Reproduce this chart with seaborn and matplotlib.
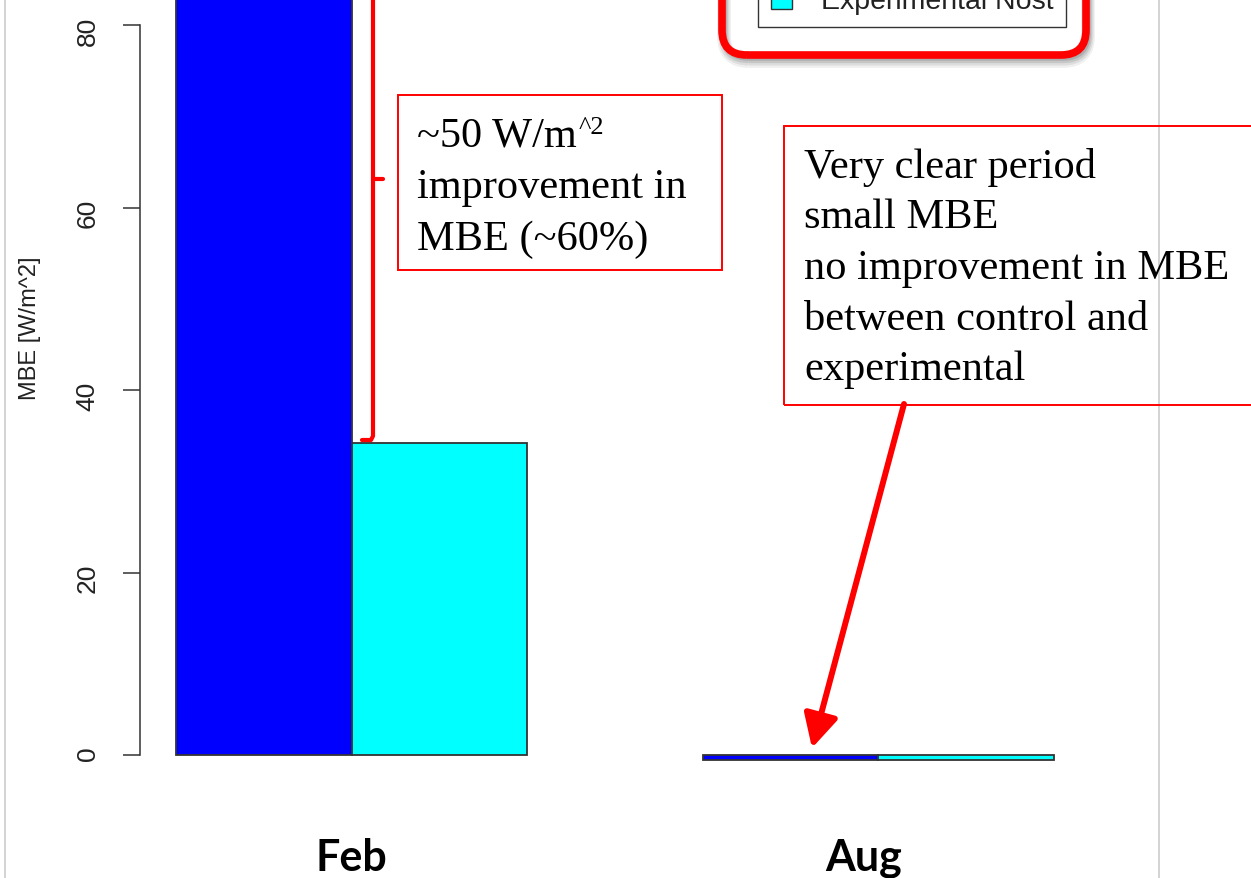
import matplotlib
matplotlib.use('Agg')
import matplotlib.pyplot as plt
import matplotlib.transforms as mtransforms
import seaborn as sns
import pandas as pd
from matplotlib.patches import Rectangle, FancyBboxPatch, FancyArrowPatch, Patch
from matplotlib.lines import Line2D

# data
months = ['Feb', 'Aug']
runs = ['Control', 'Experimental Nost']
control_mbe = [84.0, -0.55]
experimental_mbe = [34.2, -0.55]
bar_colors = ['#0000FF', '#00FFFF']
y_ticks = [0, 20, 40, 60, 80]

W, H = 1251, 879
AX_BOTTOM = 830  # pixel row of the bottom of the axes


def P(x, y):
    # pixel position (from top-left) -> inches for fig.dpi_scale_trans
    return (x / 100, (H - y) / 100)


df = pd.DataFrame({
    'month': months * 2,
    'run': [runs[0]] * len(months) + [runs[1]] * len(months),
    'MBE': control_mbe + experimental_mbe,
})

sns.set_theme(style='white')
plt.rcParams['font.family'] = ['Liberation Sans', 'DejaVu Sans']

fig = plt.figure(figsize=(W / 100, H / 100), dpi=100)
ax = fig.add_axes([0, 1 - AX_BOTTOM / H, 1, AX_BOTTOM / H])
ax.patch.set_alpha(0)

sns.barplot(data=df, x='month', y='MBE', hue='run', palette=bar_colors,
            saturation=1, width=2 / 3, edgecolor='#333333', linewidth=1.3,
            errorbar=None, legend=False, ax=ax)

# scale so bars land where they sit in the slide
unit_x = 526.8
ax.set_xlim(-1 / 3 - 176 / unit_x, -1 / 3 + (W - 176) / unit_x)
unit_y = 9.125
ax.set_ylim(-(AX_BOTTOM - 756) / unit_y, 756 / unit_y)

for side in ['top', 'right', 'bottom']:
    ax.spines[side].set_visible(False)
ax.spines['left'].set_position(('axes', 140 / W))
ax.spines['left'].set_bounds(0, 80)
ax.spines['left'].set_color('#333333')
ax.spines['left'].set_linewidth(1.1)

ax.set_yticks(y_ticks)
ax.tick_params(axis='y', direction='out', length=12, width=1.1, color='#333333',
               pad=17, labelsize=19, labelrotation=90, labelcolor='#222222', left=True)
ax.set_ylabel('MBE [W/m^2]', fontsize=17, color='#222222')
ax.yaxis.set_label_coords(41 / W, (AX_BOTTOM - 328) / AX_BOTTOM)

ax.set_xlabel('')
ax.tick_params(axis='x', length=0, pad=6, labelsize=31, labelcolor='black')
for lbl in ax.get_xticklabels():
    lbl.set_fontfamily('Lato')
    lbl.set_fontweight('bold')
# the Aug label sits a little left of its group in the slide
aug_lbl = ax.get_xticklabels()[1]
aug_lbl.set_transform(aug_lbl.get_transform() +
                      mtransforms.ScaledTranslation(-0.15, 0, fig.dpi_scale_trans))

# legend (top is cut off in the slide)
handles = [Patch(facecolor=c, edgecolor='#333333', linewidth=1) for c in bar_colors]
leg = ax.legend(handles, runs, loc='lower left',
                bbox_to_anchor=(758 / W, (AX_BOTTOM - 28) / AX_BOTTOM),
                borderaxespad=0, fontsize=20.5, frameon=True, fancybox=False,
                edgecolor='#333333', handlelength=0.75, handleheight=0.75,
                handletextpad=1.0, borderpad=0.45, labelspacing=0.6)
leg.get_frame().set_linewidth(1.0)
leg.get_frame().set_alpha(1)
for t in leg.get_texts():
    t.set_color('#222222')

tr = fig.dpi_scale_trans

# slide frame lines
for gx in [5, 1159]:
    fig.add_artist(Line2D([gx / 100, gx / 100], [0, H / 100], transform=tr,
                          color='#cccccc', lw=1.2, zorder=0))

# red rounded box around the legend, with a soft shadow
bx0, bx1, by0 = 722, 1086, 56
for i, a in enumerate([0.06, 0.08, 0.10, 0.12]):
    off = 6 - i
    sh = FancyBboxPatch(P(bx0 + 2, by0 + off), (bx1 - bx0) / 100, 1.2,
                        boxstyle='round,pad=0,rounding_size=0.25', transform=tr,
                        fc='none', ec='black', lw=10 - 2 * i, alpha=a, zorder=4)
    fig.add_artist(sh)
fig.add_artist(FancyBboxPatch(P(bx0, by0), (bx1 - bx0) / 100, 1.2,
                              boxstyle='round,pad=0,rounding_size=0.25', transform=tr,
                              fc='none', ec='#FF0000', lw=5.5, zorder=5))

# bracket showing the Feb improvement
br = [P(373, -5), P(373, 437), P(371, 441), P(362, 441)]
fig.add_artist(Line2D([p[0] for p in br], [p[1] for p in br], transform=tr,
                      color='#FF0000', lw=3, solid_capstyle='round',
                      solid_joinstyle='round', zorder=5))
tk = [P(373, 180), P(383, 180)]
fig.add_artist(Line2D([p[0] for p in tk], [p[1] for p in tk], transform=tr,
                      color='#FF0000', lw=3, solid_capstyle='round', zorder=5))

serif = 'Liberation Serif'
fs = 30.5

# first callout
fig.add_artist(Rectangle(P(398, 271), 3.24, 1.75, transform=tr,
                         fc='none', ec='#FF0000', lw=1.4, zorder=5))
t1 = fig.text(*P(417, 147), '~50 W/m', transform=tr, family=serif, size=fs,
              va='baseline', ha='left', color='black')
ax.annotate('^2', xy=(1, 1), xycoords=t1, xytext=(1, 0), textcoords='offset points',
            va='top', ha='left', family=serif, size=19, color='black',
            annotation_clip=False)
for y, line in zip([198, 250], ['improvement in', 'MBE (~60%)']):
    fig.text(*P(417, y), line, transform=tr, family=serif, size=fs,
             va='baseline', ha='left', color='black')

# second callout
fig.add_artist(Rectangle(P(784, 406), 6.0, 2.79, transform=tr,
                         fc='none', ec='#FF0000', lw=1.4, zorder=5))
lines2 = ['Very clear period', 'small MBE', 'no improvement in MBE',
          'between control and', 'experimental']
for y, line in zip([178, 228, 279, 330, 380], lines2):
    fig.text(*P(804, y), line, transform=tr, family=serif, size=fs,
             va='baseline', ha='left', color='black')

fig.add_artist(FancyArrowPatch(P(904, 405), P(812, 749), transform=tr,
                               arrowstyle='-|>,head_length=0.5,head_width=0.26',
                               mutation_scale=40, lw=4.3, color='#FF0000',
                               shrinkA=0, shrinkB=0, zorder=6))

fig.savefig('out.png', dpi=100)
